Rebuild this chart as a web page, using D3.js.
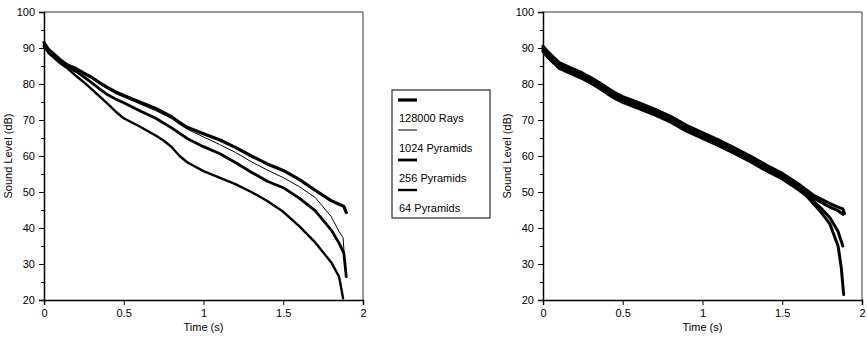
<!DOCTYPE html>
<html>
<head>
<meta charset="utf-8">
<script src="https://cdn.jsdelivr.net/npm/d3@7"></script>
<style>
  body { margin: 0; background: #fff; }
  svg { font-family: "Liberation Sans", Arial, sans-serif; }
</style>
</head>
<body>
<svg id="chart"></svg>
<script>
const seriesNames = ["128000 Rays", "1024 Pyramids", "256 Pyramids", "64 Pyramids"];
const xTicks = [0, 0.5, 1, 1.5, 2];
const yTicks = [20, 30, 40, 50, 60, 70, 80, 90, 100];
const yMinorTicks = [25, 35, 45, 55, 65, 75, 85, 95];

// left panel: time (s) and level (dB) per series
const leftRaysTime = [0, 0.03, 0.07, 0.1, 0.15, 0.2, 0.25, 0.3, 0.35, 0.4, 0.45, 0.5, 0.6, 0.7, 0.8, 0.85, 0.9, 1.0, 1.1, 1.2, 1.3, 1.4, 1.5, 1.6, 1.7, 1.8, 1.85, 1.88, 1.895];
const leftRaysDb = [91.5, 89.5, 88, 86.8, 85.2, 84.3, 83, 81.8, 80.3, 79, 77.8, 76.8, 75, 73.2, 70.9, 69.3, 67.9, 66.2, 64.5, 62.4, 60, 57.8, 56, 53.5, 50.5, 47.6, 46.6, 46, 44.3];

const left1024Time = [0, 0.03, 0.07, 0.1, 0.15, 0.2, 0.25, 0.3, 0.35, 0.4, 0.45, 0.5, 0.6, 0.7, 0.8, 0.85, 0.9, 1.0, 1.1, 1.2, 1.3, 1.4, 1.5, 1.6, 1.7, 1.8, 1.85, 1.875, 1.885];
const left1024Db = [91, 89.5, 87.8, 86.5, 85, 84, 82.8, 81.5, 80, 78.6, 77.3, 76.4, 74.5, 72.6, 70.4, 68.8, 67.4, 65.3, 63.2, 61, 58.4, 56.1, 54, 51.5, 48.5, 43.2, 39, 37.3, 31];

const left256Time = [0, 0.03, 0.07, 0.1, 0.15, 0.2, 0.25, 0.3, 0.35, 0.4, 0.45, 0.5, 0.6, 0.7, 0.8, 0.9, 1.0, 1.1, 1.2, 1.3, 1.4, 1.5, 1.6, 1.7, 1.8, 1.85, 1.88, 1.895];
const left256Db = [90.5, 89, 87.5, 86, 84.7, 83.5, 82, 80.3, 78.6, 77, 75.8, 74.8, 72.6, 70.5, 67.8, 64.8, 62.6, 60.7, 58.2, 55.5, 53, 51.2, 48.3, 44.8, 39.5, 35.8, 33, 26.5];

const left64Time = [0, 0.03, 0.07, 0.1, 0.15, 0.2, 0.25, 0.3, 0.35, 0.4, 0.45, 0.5, 0.6, 0.7, 0.75, 0.8, 0.85, 0.9, 1.0, 1.1, 1.2, 1.3, 1.4, 1.5, 1.6, 1.7, 1.8, 1.85, 1.875];
const left64Db = [90.5, 88.5, 87, 85.8, 84.2, 82.3, 80.5, 78.5, 76.5, 74.5, 72.3, 70.5, 68.2, 65.7, 64.3, 62.5, 60, 58.2, 55.8, 54, 52.2, 50, 47.5, 44.5, 40.5, 36, 30.5, 26.5, 20.5];

// right panel
const rightRaysTime = [0, 0.03, 0.07, 0.1, 0.15, 0.2, 0.25, 0.3, 0.35, 0.4, 0.45, 0.5, 0.6, 0.7, 0.8, 0.9, 1.0, 1.1, 1.2, 1.3, 1.4, 1.5, 1.6, 1.7, 1.8, 1.85, 1.88, 1.89];
const rightRaysDb = [90.5, 89, 87.3, 86, 85, 84, 83, 81.8, 80.5, 79, 77.6, 76.5, 74.8, 73, 71, 68.5, 66.5, 64.5, 62.3, 60, 57.5, 55.2, 52.3, 49, 46.8, 45.8, 45.3, 44];

const right1024Time = [0, 0.03, 0.07, 0.1, 0.15, 0.2, 0.25, 0.3, 0.35, 0.4, 0.45, 0.5, 0.6, 0.7, 0.8, 0.9, 1.0, 1.1, 1.2, 1.3, 1.4, 1.5, 1.6, 1.7, 1.8, 1.85, 1.88];
const right1024Db = [90, 88.4, 86.7, 85.4, 84.4, 83.4, 82.4, 81.2, 79.9, 78.4, 77, 75.9, 74.2, 72.4, 70.4, 67.9, 65.9, 63.9, 61.7, 59.4, 56.9, 54.6, 51.7, 48.2, 45.8, 44.8, 43.8];

const right256Time = [0, 0.03, 0.07, 0.1, 0.15, 0.2, 0.25, 0.3, 0.35, 0.4, 0.45, 0.5, 0.6, 0.7, 0.8, 0.9, 1.0, 1.1, 1.2, 1.3, 1.4, 1.5, 1.6, 1.7, 1.75, 1.8, 1.85, 1.88];
const right256Db = [89.4, 87.8, 86.1, 84.8, 83.8, 82.8, 81.8, 80.6, 79.3, 77.8, 76.4, 75.3, 73.6, 71.8, 69.8, 67.3, 65.3, 63.3, 61.1, 58.8, 56.3, 54, 51, 47.3, 45.2, 42.8, 39, 35];

const right64Time = [0, 0.03, 0.07, 0.1, 0.15, 0.2, 0.25, 0.3, 0.35, 0.4, 0.45, 0.5, 0.6, 0.7, 0.8, 0.9, 1.0, 1.1, 1.2, 1.3, 1.4, 1.5, 1.6, 1.65, 1.7, 1.75, 1.8, 1.85, 1.87, 1.885];
const right64Db = [89, 87.4, 85.7, 84.4, 83.4, 82.4, 81.4, 80.2, 78.9, 77.4, 76, 74.9, 73.2, 71.4, 69.4, 66.9, 64.9, 62.9, 60.7, 58.4, 55.9, 53.6, 50.7, 49, 46.5, 44, 41, 35, 29, 21.5];

const lineWidths = [3.2, 1, 2.8, 2.4];
const rightWidths = [3, 3, 3, 3];

const leftSeries = [
    { time: leftRaysTime, db: leftRaysDb },
    { time: left1024Time, db: left1024Db },
    { time: left256Time, db: left256Db },
    { time: left64Time, db: left64Db },
];
const rightSeries = [
    { time: rightRaysTime, db: rightRaysDb },
    { time: right1024Time, db: right1024Db },
    { time: right256Time, db: right256Db },
    { time: right64Time, db: right64Db },
];

const width = 867;
const height = 338;

const svg = d3.select("#chart").attr("width", width).attr("height", height);

function drawPanel(series, left, right, top, bottom, widths) {
    const x = d3.scaleLinear().domain([0, 2]).range([left, right]);
    const y = d3.scaleLinear().domain([20, 100]).range([bottom, top]);

    const g = svg.append("g");

    // frame top and right
    g.append("path")
        .attr("d", `M${left},${top}H${right}V${bottom}`)
        .attr("fill", "none")
        .attr("stroke", "#333")
        .attr("stroke-width", 1);

    const line = d3.line().x(d => x(d[0])).y(d => y(d[1]));

    series.forEach((s, i) => {
        const pts = s.time.map((t, j) => [t, s.db[j]]);
        g.append("path")
            .datum(pts)
            .attr("d", line)
            .attr("fill", "none")
            .attr("stroke", "#000")
            .attr("stroke-linejoin", "round")
            .attr("stroke-linecap", "round")
            .attr("stroke-width", widths[i]);
    });

    // X axis
    const xAxis = g.append("g")
        .attr("transform", `translate(0,${bottom})`)
        .call(d3.axisBottom(x).tickValues(xTicks).tickSize(5).tickPadding(4).tickFormat(d3.format("")));
    xAxis.select(".domain").attr("stroke-width", 1.5);

    // Y axis
    const yAxis = g.append("g")
        .attr("transform", `translate(${left},0)`)
        .call(d3.axisLeft(y).tickValues(yTicks).tickSize(5).tickPadding(4));
    yAxis.select(".domain").attr("stroke-width", 1.5);

    g.append("g")
        .attr("transform", `translate(${left},0)`)
        .call(d3.axisLeft(y).tickValues(yMinorTicks).tickSize(3).tickFormat(""))
        .select(".domain").remove();

    g.selectAll(".tick text").attr("font-size", 11).attr("font-family", "Liberation Sans, Arial, sans-serif").attr("fill", "#000");

    g.append("text")
        .attr("x", (left + right) / 2)
        .attr("y", bottom + 31)
        .attr("text-anchor", "middle")
        .attr("font-size", 11)
        .text("Time (s)");

    g.append("text")
        .attr("transform", `translate(${left - 32},${(top + bottom) / 2}) rotate(-90)`)
        .attr("text-anchor", "middle")
        .attr("font-size", 11)
        .text("Sound Level (dB)");
}

drawPanel(leftSeries, 44, 363, 12, 300, lineWidths);
drawPanel(rightSeries, 543, 862, 12, 300, rightWidths);

// Legend
const legend = svg.append("g").attr("transform", "translate(392,90)");
legend.append("rect")
    .attr("width", 98)
    .attr("height", 128)
    .attr("fill", "#fff")
    .attr("stroke", "#000")
    .attr("stroke-width", 1);

const legendGroups = legend.selectAll("g.item")
    .data(seriesNames)
    .enter()
    .append("g")
    .attr("class", "item")
    .attr("transform", (d, i) => `translate(0, ${i * 30})`);

legendGroups.append("line")
    .attr("x1", 6)
    .attr("x2", 25)
    .attr("y1", 10)
    .attr("y2", 10)
    .attr("stroke", "#000")
    .attr("stroke-width", (d, i) => lineWidths[i]);

legendGroups.append("text")
    .attr("x", 7)
    .attr("y", 32)
    .attr("font-size", 11)
    .text(d => d);
</script>
</body>
</html>
